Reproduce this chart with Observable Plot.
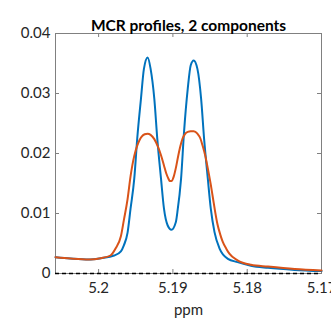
<!DOCTYPE html>
<html>
<head>
<meta charset="utf-8">
<script src="https://cdn.jsdelivr.net/npm/d3@7"></script>
<script src="https://cdn.jsdelivr.net/npm/@observablehq/plot@0.6"></script>
<style>
  html, body { margin: 0; padding: 0; background: #fff; }
  #chart svg { display: block; }
</style>
</head>
<body>
<div id="chart"></div>
<script>
// ---- data ----
const titleText = "MCR profiles, 2 components";
const xLabel = "ppm";
const xTicks = [5.2, 5.19, 5.18, 5.17];
const xTickLabels = ["5.2", "5.19", "5.18", "5.17"];
const yTicks = [0, 0.01, 0.02, 0.03, 0.04];
const yTickLabels = ["0", "0.01", "0.02", "0.03", "0.04"];
const xDomain = [5.2058, 5.17];
const yDomain = [0, 0.04];

const comp1Ppm = [5.2058, 5.2038, 5.2013, 5.1997, 5.1979, 5.1970, 5.1966, 5.1961, 5.1957, 5.1952,
  5.1948, 5.1943, 5.1939, 5.1934, 5.1930, 5.1925, 5.1921, 5.1916, 5.1912, 5.1907,
  5.1902, 5.1896, 5.1894, 5.1889, 5.1885, 5.1880, 5.1876, 5.1872, 5.1867, 5.1862,
  5.1858, 5.1853, 5.1849, 5.1844, 5.1837, 5.1826, 5.1813, 5.1795, 5.1772, 5.1736, 5.1700];
const comp1Val = [0.00272, 0.0025, 0.00233, 0.00255, 0.0030, 0.0037, 0.0047, 0.0068, 0.0108, 0.0158,
  0.0225, 0.0291, 0.0341, 0.0360, 0.0341, 0.0291, 0.02245, 0.0158, 0.0108, 0.0080,
  0.0073, 0.0086, 0.0102, 0.0158, 0.0236, 0.0308, 0.0347, 0.0355, 0.0341, 0.0291,
  0.02245, 0.0158, 0.0108, 0.0069, 0.0041, 0.00245, 0.0019, 0.0013, 0.00095, 0.0006, 0.0004];

const comp2Ppm = [5.2058, 5.2038, 5.2013, 5.1997, 5.1984, 5.1977, 5.1970, 5.1966, 5.1961, 5.1957,
  5.1952, 5.1948, 5.1945, 5.1942, 5.1938, 5.1934, 5.1930, 5.1925, 5.1920, 5.1916,
  5.1912, 5.1909, 5.1906, 5.1904, 5.1902, 5.1899, 5.1896, 5.1893, 5.1890, 5.1887,
  5.1884, 5.1880, 5.1876, 5.1872, 5.1867, 5.1863, 5.1860, 5.1856, 5.1853, 5.1849,
  5.1846, 5.1843, 5.1840, 5.1836, 5.1833, 5.1828, 5.1824, 5.1813, 5.1795, 5.1772,
  5.1736, 5.1700];
const comp2Val = [0.00272, 0.0025, 0.00233, 0.00255, 0.0030, 0.0042, 0.0062, 0.0089, 0.0124, 0.0162,
  0.0196, 0.0213, 0.0222, 0.0228, 0.0232, 0.0233, 0.0231, 0.0224, 0.0211, 0.0197,
  0.0180, 0.0167, 0.0158, 0.0154, 0.0154, 0.0161, 0.0176, 0.0195, 0.0212, 0.0225,
  0.0232, 0.0236, 0.0237, 0.0237, 0.0233, 0.0225, 0.0213, 0.0194, 0.0175, 0.0148,
  0.0125, 0.0102, 0.0082, 0.0064, 0.0053, 0.0041, 0.0033, 0.0022, 0.00145, 0.00115,
  0.00075, 0.0005];

const seriesColors = ["#0072BD", "#D95319"];

// ---- build tables ----
const comp1 = comp1Ppm.map((p, i) => ({ppm: p, v: comp1Val[i]}));
const comp2 = comp2Ppm.map((p, i) => ({ppm: p, v: comp2Val[i]}));

const W = 331, H = 322;
const mL = 55, mR = 10, mT = 33, mB = 49;
const innerH = H - mT - mB;
const innerW = W - mL - mR;
const tickLen = 4;
const textColor = "#262626";
const axisColor = "#808080";

const chart = Plot.plot({
  width: W,
  height: H,
  marginLeft: mL,
  marginRight: mR,
  marginTop: mT,
  marginBottom: mB,
  style: {fontFamily: "Lato, sans-serif", fontSize: "15px", color: textColor, background: "#fff", overflow: "hidden"},
  x: {domain: xDomain},
  y: {domain: yDomain},
  marks: [
    // inside tick marks on all four sides
    Plot.tickX(xTicks, {x: d => d, stroke: axisColor, strokeWidth: 1, insetTop: innerH - tickLen}),
    Plot.tickX(xTicks, {x: d => d, stroke: axisColor, strokeWidth: 1, insetBottom: innerH - tickLen}),
    Plot.tickY(yTicks, {y: d => d, stroke: axisColor, strokeWidth: 1, insetRight: innerW - tickLen}),
    Plot.tickY(yTicks, {y: d => d, stroke: axisColor, strokeWidth: 1, insetLeft: innerW - tickLen}),
    Plot.axisX({ticks: xTicks, tickFormat: (d) => xTickLabels[xTicks.indexOf(d)], tickSize: 0, tickPadding: 9, label: null, fill: textColor}),
    Plot.axisY({ticks: yTicks, tickFormat: (d) => yTickLabels[yTicks.indexOf(d)], tickSize: 0, tickPadding: 5, label: null, fill: textColor}),
    Plot.frame({stroke: axisColor, strokeWidth: 1}),
    Plot.line(comp1, {x: "ppm", y: "v", stroke: seriesColors[0], strokeWidth: 2, curve: "monotone-x"}),
    Plot.line(comp2, {x: "ppm", y: "v", stroke: seriesColors[1], strokeWidth: 2, curve: "monotone-x"}),
    Plot.ruleY([0], {stroke: "#000", strokeWidth: 1.5, strokeDasharray: "4,3"}),
    Plot.text([titleText], {frameAnchor: "top", dy: -14, fontWeight: "bold", fontSize: 15.5, fill: "#000"}),
    Plot.text([xLabel], {frameAnchor: "bottom", dy: 41, fontSize: 15, fill: textColor})
  ]
});
document.getElementById("chart").appendChild(chart);
</script>
</body>
</html>
